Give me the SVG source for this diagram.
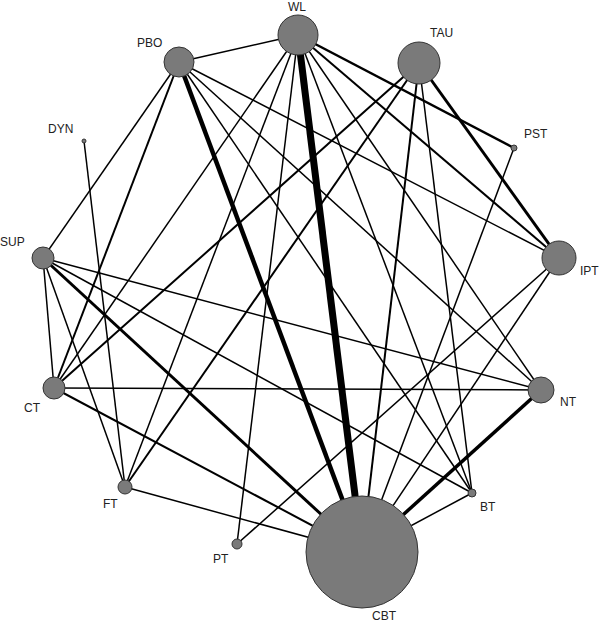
<svg xmlns="http://www.w3.org/2000/svg" width="600" height="623" viewBox="0 0 600 623">
<style>
.n{fill:#7a7a7a;stroke:#333;stroke-width:1}
text{font-family:"Liberation Sans",Arial,sans-serif;font-size:12px;fill:#222}
#edges line{stroke:#000;stroke-width:1.5}
</style>
<rect width="600" height="623" fill="#fff"/>
<g id="edges">
<line x1="298" y1="35" x2="179" y2="62"/>
<line x1="298" y1="35" x2="362" y2="552" style="stroke-width:7"/>
<line x1="298" y1="35" x2="514" y2="148" style="stroke-width:2.5"/>
<line x1="298" y1="35" x2="559" y2="258" style="stroke-width:2"/>
<line x1="298" y1="35" x2="541" y2="390"/>
<line x1="298" y1="35" x2="472" y2="493"/>
<line x1="298" y1="35" x2="54" y2="388"/>
<line x1="298" y1="35" x2="125" y2="487"/>
<line x1="298" y1="35" x2="237" y2="544"/>
<line x1="419" y1="63" x2="362" y2="552" style="stroke-width:2"/>
<line x1="419" y1="63" x2="472" y2="493"/>
<line x1="419" y1="63" x2="559" y2="258" style="stroke-width:3"/>
<line x1="419" y1="63" x2="54" y2="388" style="stroke-width:2"/>
<line x1="419" y1="63" x2="125" y2="487" style="stroke-width:2"/>
<line x1="179" y1="62" x2="43" y2="258"/>
<line x1="179" y1="62" x2="54" y2="388" style="stroke-width:2"/>
<line x1="179" y1="62" x2="362" y2="552" style="stroke-width:4.5"/>
<line x1="179" y1="62" x2="472" y2="493"/>
<line x1="179" y1="62" x2="541" y2="390"/>
<line x1="179" y1="62" x2="559" y2="258"/>
<line x1="84" y1="141" x2="125" y2="487"/>
<line x1="514" y1="148" x2="362" y2="552"/>
<line x1="43" y1="258" x2="362" y2="552" style="stroke-width:3"/>
<line x1="43" y1="258" x2="541" y2="390"/>
<line x1="43" y1="258" x2="472" y2="493"/>
<line x1="43" y1="258" x2="54" y2="388"/>
<line x1="43" y1="258" x2="125" y2="487"/>
<line x1="54" y1="388" x2="541" y2="390"/>
<line x1="54" y1="388" x2="362" y2="552" style="stroke-width:2"/>
<line x1="559" y1="258" x2="362" y2="552"/>
<line x1="559" y1="258" x2="237" y2="544"/>
<line x1="541" y1="390" x2="362" y2="552" style="stroke-width:3.5"/>
<line x1="472" y1="493" x2="362" y2="552"/>
<line x1="125" y1="487" x2="362" y2="552"/>
</g>
<g id="WL"><circle class="n" cx="298" cy="35" r="20"/><text x="288" y="11">WL</text></g>
<g id="TAU"><circle class="n" cx="419" cy="63" r="21"/><text x="430" y="37">TAU</text></g>
<g id="PBO"><circle class="n" cx="179" cy="62" r="15"/><text x="137" y="47">PBO</text></g>
<g id="DYN"><circle class="n" cx="84" cy="141" r="2"/><text x="48" y="133">DYN</text></g>
<g id="PST"><circle class="n" cx="514" cy="148" r="3"/><text x="524" y="138">PST</text></g>
<g id="SUP"><circle class="n" cx="43" cy="258" r="11"/><text x="0" y="246">SUP</text></g>
<g id="IPT"><circle class="n" cx="559" cy="258" r="17"/><text x="580" y="275">IPT</text></g>
<g id="CT"><circle class="n" cx="54" cy="388" r="11"/><text x="24" y="412">CT</text></g>
<g id="NT"><circle class="n" cx="541" cy="390" r="13"/><text x="560" y="406">NT</text></g>
<g id="FT"><circle class="n" cx="125" cy="487" r="7"/><text x="103" y="508">FT</text></g>
<g id="BT"><circle class="n" cx="472" cy="493" r="4"/><text x="480" y="511">BT</text></g>
<g id="PT"><circle class="n" cx="237" cy="544" r="5"/><text x="213" y="563">PT</text></g>
<g id="CBT"><circle class="n" cx="362" cy="552" r="56"/><text x="372" y="620">CBT</text></g>
</svg>
